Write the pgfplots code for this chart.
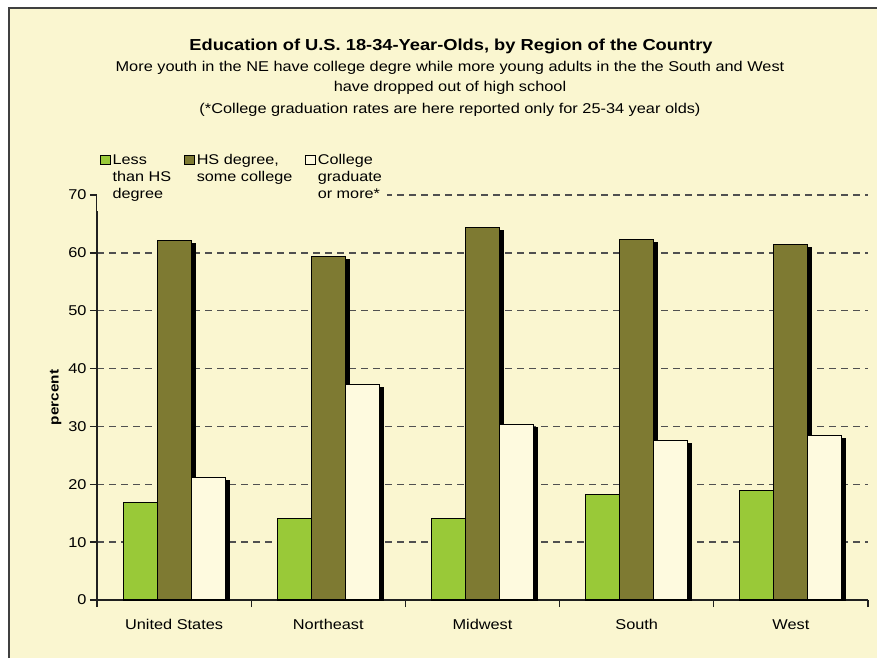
\documentclass[border=0pt]{standalone}
\usepackage{fontspec}
\setmainfont{Liberation Sans}[FakeStretch=1.15]
\usepackage{pgfplots}
\pgfplotsset{compat=1.18}
\definecolor{bgc}{HTML}{FAF6D0}
\definecolor{framec}{HTML}{404040}
\definecolor{greenc}{HTML}{99C938}
\definecolor{olivec}{HTML}{7E7A32}
\definecolor{creamc}{HTML}{FEFADF}
\definecolor{gridc}{HTML}{505050}
\definecolor{axisc}{HTML}{202020}
\begin{document}
\begin{tikzpicture}
\path[use as bounding box] (0,0) rectangle (877pt,658pt);
\fill[white] (0,0) rectangle (877pt,658pt);
\fill[bgc] (9pt,0) rectangle (877pt,650pt);
\draw[framec, line width=2.8pt] (9pt,0) -- (9pt,650pt) -- (877pt,650pt);
\node[anchor=base, font=\fontsize{15.9}{18}\selectfont\bfseries] at (451pt,607pt) {Education of U.S. 18-34-Year-Olds, by Region of the Country};
\node[anchor=base, font=\fontsize{14.2}{17}\selectfont] at (450pt,586pt) {More youth in the NE have college degre while more young adults in the the South and West};
\node[anchor=base, font=\fontsize{14.2}{17}\selectfont] at (450pt,566pt) {have dropped out of high school};
\node[anchor=base, font=\fontsize{14.2}{17}\selectfont] at (450pt,544pt) {(*College graduation rates are here reported only for 25-34 year olds)};
\begin{axis}[
  at={(97pt,58pt)}, anchor=south west, scale only axis,
  width=771pt, height=405pt,
  xmin=-0.5, xmax=4.5, ymin=0, ymax=70,
  axis lines*=left,
  ybar=0pt, bar width=34pt,
  xtick={-0.5,0.5,...,4.5}, x tick label as interval,
  xticklabels={United States,Northeast,Midwest,South,West},
  xticklabel style={yshift=-9pt},
  ytick={0,10,...,70},
  tick align=outside, major tick length=7pt,
  ymajorgrids,
  grid style={dash pattern=on 7pt off 5pt, line width=1.5pt, color=gridc},
  axis line style={line width=1.3pt, color=axisc},
  tick style={line width=1.3pt, color=axisc},
  ticklabel style={font=\fontsize{14.2}{17}\selectfont},
  /pgf/number format/assume math mode=true,
  ylabel={percent},
  ylabel style={font=\fontsize{13.3}{16}\selectfont\bfseries},
  legend columns=3,
  legend cell align=left,
  legend style={at={(0.0,1.128)}, anchor=north west, draw=none, fill=bgc,
    inner xsep=3pt, inner ysep=10pt,
    font=\fontsize{14.1}{17}\selectfont,
    nodes={anchor=north west, align=left, inner ysep=1pt},
    /tikz/every even column/.append style={column sep=11pt}},
  every axis plot/.append style={draw=black, line width=1.1pt,
    preaction={fill=black, draw=black, transform canvas={shift={(4pt,-3pt)}}}},
]
\addplot[fill=greenc, legend image code/.code={\pgfpathrectangle{\pgfpoint{0pt}{-11.3pt}}{\pgfpoint{9.5pt}{9.5pt}}\pgfsetfillcolor{greenc}\pgfsetstrokecolor{black}\pgfsetlinewidth{1pt}\pgfusepath{fill,stroke}}]
  coordinates {(0,16.9) (1,14.1) (2,14.1) (3,18.3) (4,19.0)};
\addlegendentry{Less\\than HS\\degree}
\addplot[fill=olivec, legend image code/.code={\pgfpathrectangle{\pgfpoint{0pt}{-11.3pt}}{\pgfpoint{9.5pt}{9.5pt}}\pgfsetfillcolor{olivec}\pgfsetstrokecolor{black}\pgfsetlinewidth{1pt}\pgfusepath{fill,stroke}}]
  coordinates {(0,62.2) (1,59.4) (2,64.4) (3,62.3) (4,61.5)};
\addlegendentry{HS degree,\\some college}
\addplot[fill=creamc, legend image code/.code={\pgfpathrectangle{\pgfpoint{0pt}{-11.3pt}}{\pgfpoint{9.5pt}{9.5pt}}\pgfsetfillcolor{creamc}\pgfsetstrokecolor{black}\pgfsetlinewidth{1pt}\pgfusepath{fill,stroke}}]
  coordinates {(0,21.1) (1,37.3) (2,30.4) (3,27.5) (4,28.4)};
\addlegendentry{College\\graduate\\or more*}
\end{axis}
\end{tikzpicture}
\end{document}
